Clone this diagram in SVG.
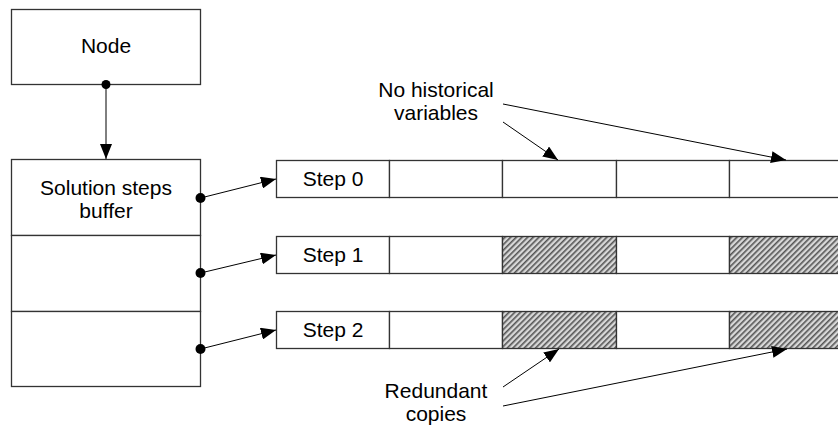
<svg xmlns="http://www.w3.org/2000/svg" width="838" height="431" viewBox="0 0 838 431">
<style>
.box{fill:#fff;stroke:#333;stroke-width:1.3}
.hatch{fill:url(#hp);stroke:#333;stroke-width:1.3}
.t{font-family:"Liberation Sans",Arial,sans-serif;font-size:21px;fill:#000;text-anchor:middle}
.ln{stroke:#000;stroke-width:1;fill:none;marker-end:url(#ah)}
.dot{fill:#000}
</style>
<defs>
<pattern id="hp" patternUnits="userSpaceOnUse" width="4" height="4" patternTransform="rotate(45)">
<rect width="4" height="4" fill="#d8d8d8"/>
<rect width="1.6" height="4" fill="#555"/>
</pattern>
<marker id="ah" markerWidth="15" markerHeight="12" refX="15" refY="6" orient="auto" markerUnits="userSpaceOnUse">
<path d="M0,0 L15,6 L0,12 Z" fill="#000"/>
</marker>
</defs>
<g id="node">
<rect class="box" x="11.5" y="9.5" width="189" height="75"/>
<text class="t" x="106" y="53">Node</text>
</g>
<g id="buffer">
<rect class="box" x="11.5" y="159.5" width="189" height="76"/>
<rect class="box" x="11.5" y="235.5" width="189" height="76"/>
<rect class="box" x="11.5" y="311.5" width="189" height="75"/>
<text class="t" x="106" y="195">Solution steps</text>
<text class="t" x="106" y="218">buffer</text>
</g>
<g id="step0">
<rect class="box" x="276.5" y="160.5" width="113" height="37"/>
<rect class="box" x="389.5" y="160.5" width="113" height="37"/>
<rect class="box" x="502.5" y="160.5" width="114" height="37"/>
<rect class="box" x="616.5" y="160.5" width="113" height="37"/>
<rect class="box" x="729.5" y="160.5" width="114" height="37"/>
<text class="t" x="333" y="186">Step 0</text>
</g>
<g id="step1">
<rect class="box" x="276.5" y="236.5" width="113" height="37"/>
<rect class="box" x="389.5" y="236.5" width="113" height="37"/>
<rect class="hatch" x="502.5" y="236.5" width="114" height="37"/>
<rect class="box" x="616.5" y="236.5" width="113" height="37"/>
<rect class="hatch" x="729.5" y="236.5" width="114" height="37"/>
<text class="t" x="333" y="262">Step 1</text>
</g>
<g id="step2">
<rect class="box" x="276.5" y="311.5" width="113" height="37"/>
<rect class="box" x="389.5" y="311.5" width="113" height="37"/>
<rect class="hatch" x="502.5" y="311.5" width="114" height="37"/>
<rect class="box" x="616.5" y="311.5" width="113" height="37"/>
<rect class="hatch" x="729.5" y="311.5" width="114" height="37"/>
<text class="t" x="333" y="337">Step 2</text>
</g>
<g id="label-nohist">
<text class="t" x="436" y="97">No historical</text>
<text class="t" x="436" y="120">variables</text>
</g>
<g id="label-redundant">
<text class="t" x="436" y="398">Redundant</text>
<text class="t" x="436" y="421">copies</text>
</g>
<g id="connectors">
<line class="ln" x1="106" y1="84" x2="106" y2="159"/>
<circle class="dot" cx="106" cy="84.5" r="4.5"/>
<line class="ln" x1="200.5" y1="198" x2="276" y2="179"/>
<circle class="dot" cx="200.5" cy="198" r="5"/>
<line class="ln" x1="200.5" y1="273" x2="276" y2="255"/>
<circle class="dot" cx="200.5" cy="273" r="5"/>
<line class="ln" x1="200.5" y1="349" x2="276" y2="330"/>
<circle class="dot" cx="200.5" cy="349" r="5"/>
<line class="ln" x1="503" y1="122" x2="558" y2="160"/>
<line class="ln" x1="503" y1="104" x2="786" y2="160"/>
<line class="ln" x1="503" y1="387" x2="559" y2="349"/>
<line class="ln" x1="503" y1="406" x2="787" y2="349"/>
</g>
</svg>
